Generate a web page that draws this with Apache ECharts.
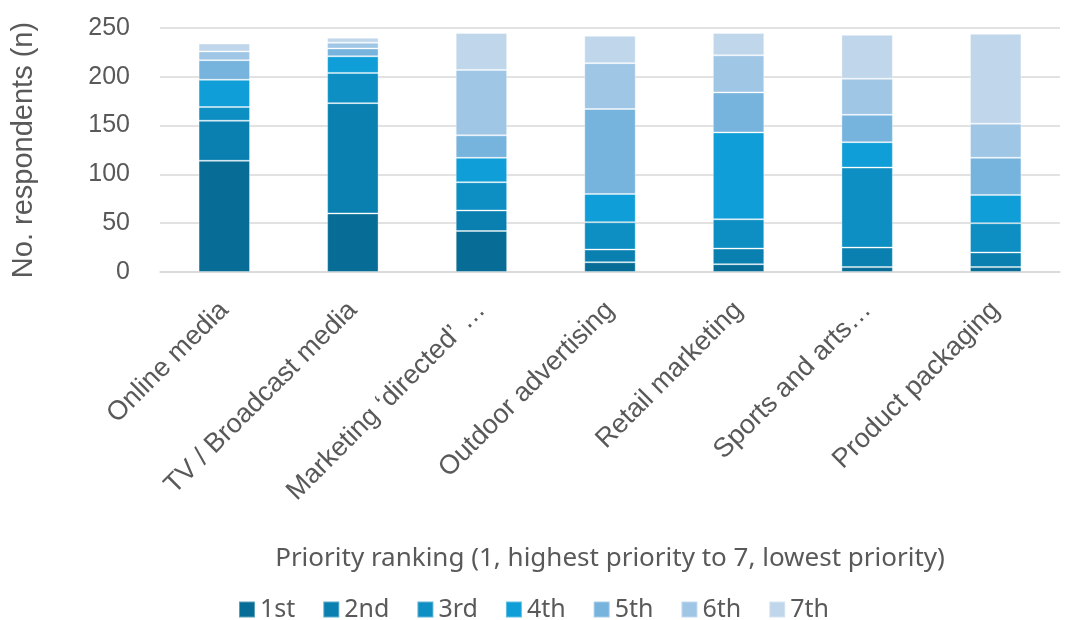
<!DOCTYPE html>
<html>
<head>
<meta charset="utf-8">
<script src="https://cdn.jsdelivr.net/npm/echarts@6/dist/echarts.min.js"></script>
<style>
html,body{margin:0;padding:0;background:#fff;}
#chart{width:1067px;height:620px;}
</style>
</head>
<body>
<div id="chart"></div>
<script>
const categories = ["Online media", "TV / Broadcast media", "Marketing \u2018directed\u2019 \u2026", "Outdoor advertising", "Retail marketing", "Sports and arts\u2026", "Product packaging"];
const seriesNames = ["1st", "2nd", "3rd", "4th", "5th", "6th", "7th"];
const rank1 = [114, 60, 42, 10, 8, 5, 5];
const rank2 = [41, 113, 21, 13, 16, 20, 15];
const rank3 = [14, 31, 29, 28, 30, 82, 30];
const rank4 = [28, 17, 25, 29, 89, 26, 29];
const rank5 = [20, 8, 23, 87, 41, 28, 38];
const rank6 = [9, 6, 67, 47, 38, 37, 35];
const rank7 = [8, 5, 38, 28, 23, 45, 92];
const yTicks = [0, 50, 100, 150, 200, 250];
const colors = ["#076D96", "#0980B0", "#0D8FC3", "#0F9ED7", "#76B3DD", "#A0C6E6", "#C0D7EB"];

const values = [rank1, rank2, rank3, rank4, rank5, rank6, rank7];
const fontA = "Liberation Sans, Arial, sans-serif";
const fontB = "Noto Sans, Open Sans, sans-serif";
const txt = "#595959";

const chart = echarts.init(document.getElementById('chart'));
chart.setOption({
  animation: false,
  color: colors,
  grid: {left: 160, right: 7, top: 28, bottom: 348, containLabel: false},
  legend: {
    top: 592,
    left: 'center',
    itemWidth: 16,
    itemHeight: 16,
    itemGap: 27,
    icon: 'rect',
    data: seriesNames,
    textStyle: {fontFamily: fontB, fontSize: 25, color: txt}
  },
  xAxis: {
    type: 'category',
    data: categories,
    name: "Priority ranking (1, highest priority to 7, lowest priority)",
    nameLocation: 'middle',
    nameGap: 274,
    nameTextStyle: {fontFamily: fontB, fontSize: 26, color: txt},
    axisLine: {lineStyle: {color: '#d9d9d9', width: 1.5}},
    axisTick: {show: false},
    axisLabel: {rotate: 45, interval: 0, margin: 34, fontFamily: fontA, fontSize: 27, color: txt}
  },
  yAxis: {
    type: 'value',
    min: yTicks[0],
    max: yTicks[yTicks.length - 1],
    interval: 50,
    name: "No. respondents (n)",
    nameLocation: 'middle',
    nameGap: 122,
    nameTextStyle: {fontFamily: fontA, fontSize: 29, color: txt},
    axisLine: {show: false},
    axisTick: {show: false},
    axisLabel: {margin: 30, fontFamily: fontA, fontSize: 25, color: txt},
    splitLine: {lineStyle: {color: '#d9d9d9', width: 1.5}}
  },
  series: seriesNames.map((n, i) => ({
    name: n,
    type: 'bar',
    stack: 'total',
    barWidth: '40%',
    data: values[i],
    itemStyle: {color: colors[i], borderColor: 'rgba(255,255,255,0.35)', borderWidth: 1}
  }))
});
</script>
</body>
</html>
